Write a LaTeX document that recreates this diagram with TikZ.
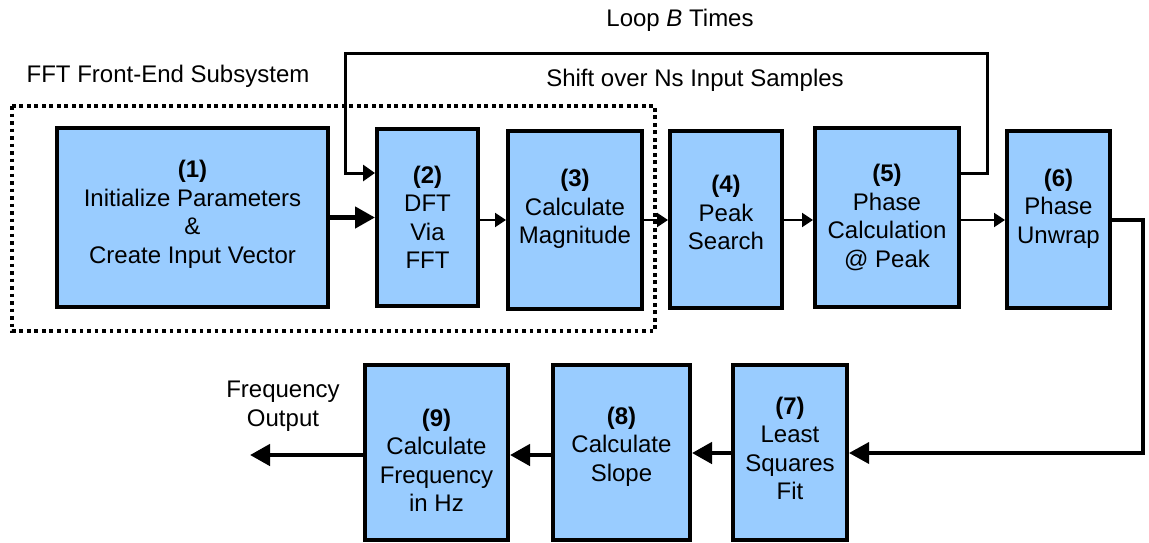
\documentclass[tikz,border=0pt]{standalone}
\usepackage{fontspec}
\setmainfont{Liberation Sans}
\usetikzlibrary{arrows.meta,calc}
\definecolor{boxblue}{RGB}{153,204,255}
\tikzset{
  blk/.style={draw, line width=4pt, fill=boxblue, inner sep=0pt},
  txt/.style={align=center, inner sep=0pt, font=\fontsize{24pt}{28.5pt}\selectfont},
  thin/.style={line width=2.3pt, -{Triangle[length=11pt,width=14pt]}},
  thick/.style={line width=4.5pt, -{Triangle[length=20pt,width=21pt]}},
  looppath/.style={line width=3pt, -{Triangle[length=12pt,width=16pt]}},
  frame/.style={line width=3.5pt, dash pattern=on 3.8pt off 3.7pt}
}
\begin{document}
\begin{tikzpicture}[x=1pt,y=-1pt]
\useasboundingbox (0,0) rectangle (1149,542);

% front-end subsystem frame
\draw[frame] (12,106) rectangle (655,331);
\node[txt] (fftlbl) at (168,76) {FFT Front-End Subsystem};

% processing blocks, top row
\node[blk, minimum width=271pt, minimum height=179pt] (b1) at (192.5,217.5) {};
\node[blk, minimum width=101pt, minimum height=177pt] (b2) at (427.5,217.5) {};
\node[blk, minimum width=134pt, minimum height=178pt] (b3) at (575,220) {};
\node[blk, minimum width=112pt, minimum height=177pt] (b4) at (726,219.5) {};
\node[blk, minimum width=144pt, minimum height=179pt] (b5) at (887,217.5) {};
\node[blk, minimum width=103pt, minimum height=177pt] (b6) at (1058.5,219.5) {};

% processing blocks, bottom row
\node[blk, minimum width=114pt, minimum height=175pt] (b7) at (790,452.5) {};
\node[blk, minimum width=137pt, minimum height=175pt] (b8) at (621.5,452.5) {};
\node[blk, minimum width=143pt, minimum height=175pt] (b9) at (436.5,452.5) {};

% block texts
\node[txt] (t1) at ([yshift=3pt]b1.center) {\textbf{(1)}\\Initialize Parameters\\\&\\ Create Input Vector};
\node[txt] (t2) at (b2.center) {\textbf{(2)}\\DFT\\ Via\\FFT};
\node[txt] (t3) at ([yshift=11pt]b3.center) {\textbf{(3)}\\Calculate\\Magnitude};
\node[txt] (t4) at ([yshift=7pt]b4.center) {\textbf{(4)}\\Peak\\Search};
\node[txt] (t5) at (b5.center) {\textbf{(5)}\\Phase\\Calculation\\@ Peak};
\node[txt] (t6) at ([yshift=11pt]b6.center) {\textbf{(6)}\\Phase\\Unwrap};
\node[txt] (t7) at ([yshift=4pt]b7.center) {\textbf{(7)}\\Least\\Squares\\Fit};
\node[txt] (t8) at ([yshift=6pt]b8.center) {\textbf{(8)}\\Calculate\\Slope};
\node[txt] (t9) at ([yshift=-8pt]b9.center) {\textbf{(9)}\\ Calculate\\Frequency\\ in Hz};

% free labels
\node[txt] (looplbl) at (680,20) {Loop \textit{B} Times};
\node[txt] (shiftlbl) at (695,80) {Shift over Ns Input Samples};
\node[txt] (outlbl) at (283,406) {Frequency\\Output};

% helper points for routed connectors
\coordinate (lr) at (987,53);
\coordinate (ll) at (345,53);
\coordinate (lrow) at (345,173);
\coordinate (c67) at (1143,453);
\coordinate (fout) at (250,455);

% forward flow, top row
\draw[thick] (b1.east) -- (b1.east -| b2.west);
\draw[thin] (b2.east |- 0,220) -- (b3.west |- 0,220);
\draw[thin] (b3.east |- 0,220) -- (b4.west |- 0,220);
\draw[thin] (b4.east |- 0,220) -- (b5.west |- 0,220);
\draw[thin] (b5.east |- 0,220) -- (b6.west |- 0,220);

% loop back over the input samples
\draw[looppath] (b5.east |- lrow) -| (lr) -- (ll) -- (lrow) -- (b2.west |- lrow);

% down to the bottom row and onward
\draw[thick, line width=3.5pt] (b6.east |- 0,220) -| (c67) -- (b7.east |- c67);
\draw[thick] (b7.west |- c67) -- (b8.east |- c67);
\draw[thick] (b8.west |- fout) -- (b9.east |- fout);
\draw[thick] (b9.west |- fout) -- (fout);
\end{tikzpicture}
\end{document}
